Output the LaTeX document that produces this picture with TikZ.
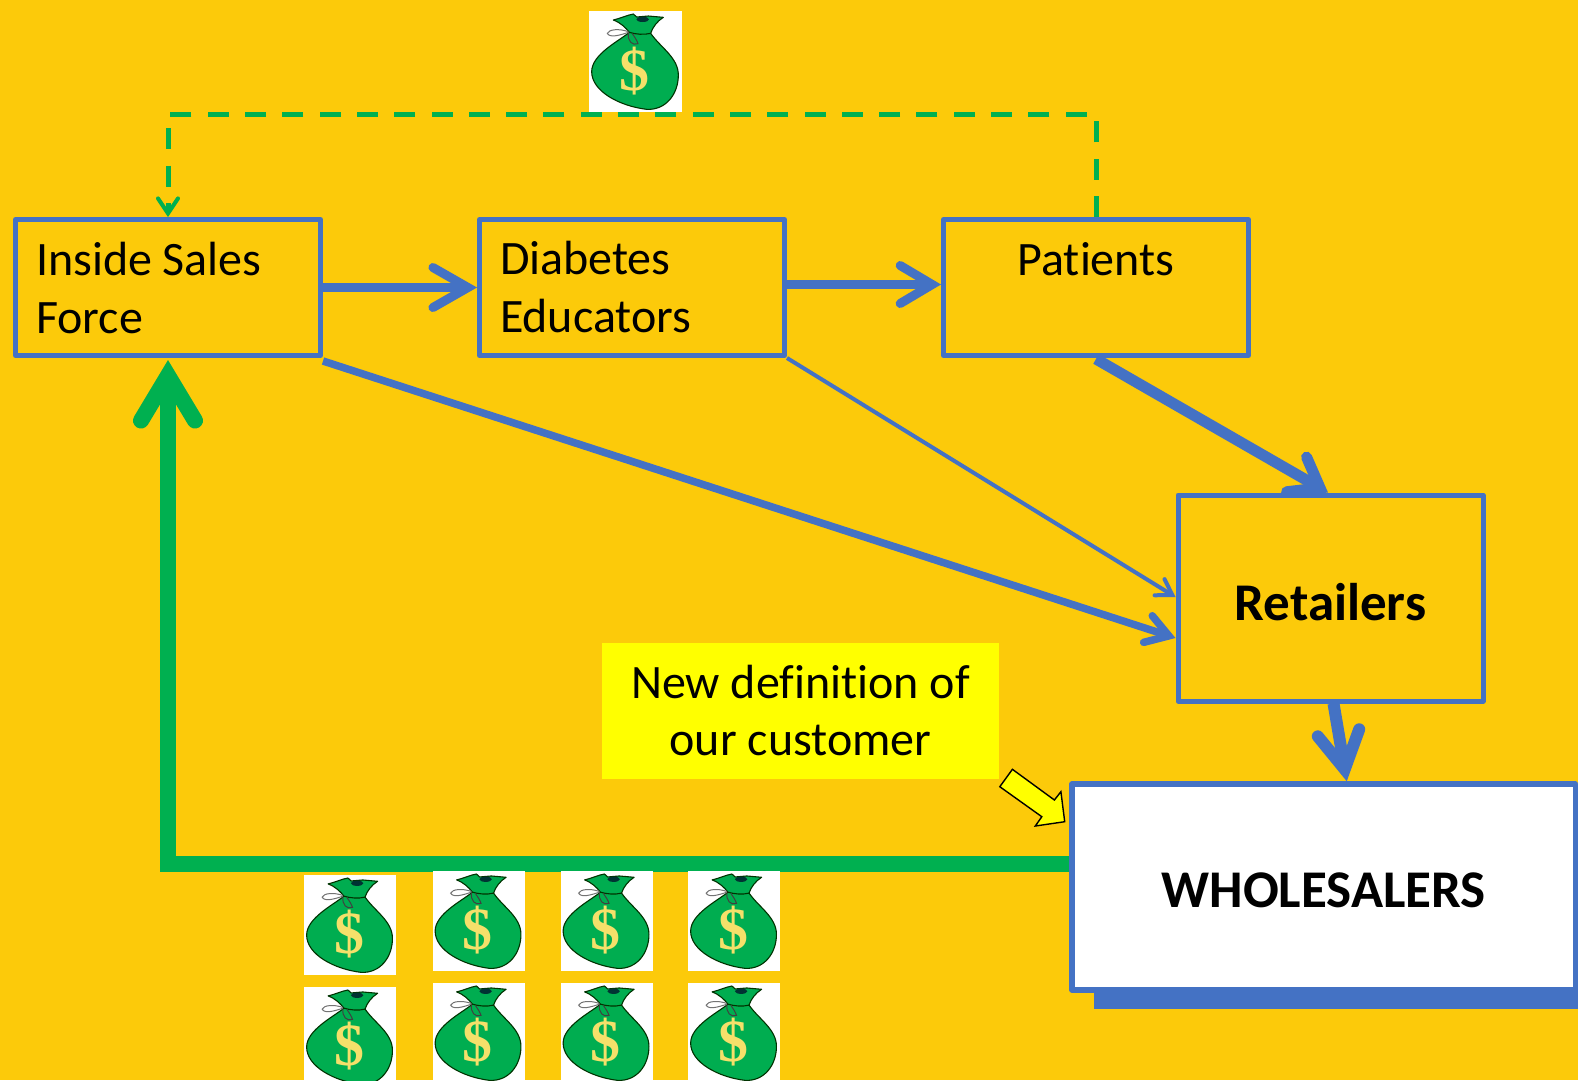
\documentclass[tikz,border=0pt]{standalone}
\usepackage{fontspec}
\setmainfont{Carlito}[Ligatures=NoCommon]
\newfontfamily\dollarfont{Liberation Serif}[Scale=1]
\usetikzlibrary{arrows.meta,calc,positioning}
\definecolor{bg}{HTML}{FCCA0A}
\definecolor{bl}{HTML}{4472C4}
\definecolor{gr}{HTML}{00B050}
\definecolor{bagg}{HTML}{00AD50}
\definecolor{dollar}{HTML}{F5E06A}
\definecolor{notey}{HTML}{FFFF00}
\tikzset{
  x=1pt,y=-1pt,
  box/.style={draw=bl,line width=5pt,line join=round,minimum width=305pt,minimum height=136pt,
    text width=264pt,inner sep=0pt,align=left,font=\fontsize{48}{58}\selectfont,text=black},
  bigbox/.style={draw=bl,line width=5pt,line join=round,inner sep=0pt,font=\fontsize{53}{60}\bfseries\selectfont,text=black,align=center},
  flow/.style={draw=bl,line join=miter},
  barb/.style n args={3}{-{Straight Barb[length=#1,width=#2,line width=#3,line cap=round,line join=miter]}},
  moneybag/.pic={
    \fill[white] (0,0) rectangle (279,303);
    \draw[line width=1.1pt,draw=black!80!green,fill=bagg,line join=round]
      (121,64) .. controls (90,90) and (8,130) .. (8,182)
      .. controls (8,240) and (90,285) .. (173,295)
      .. controls (230,298) and (268,250) .. (268,192)
      .. controls (268,140) and (215,110) .. (185,67) -- cycle;
    \draw[line width=1.1pt,draw=black!80!green,fill=bagg,line join=round]
      (121,64) .. controls (110,50) and (95,35) .. (73,27)
      .. controls (95,22) and (115,12) .. (133,9) -- (143,18)
      -- (178,15) -- (223,19) .. controls (205,30) and (190,50) .. (185,67)
      .. controls (165,72) and (140,70) .. (121,64) -- cycle;
    \fill[black!60!teal] (161,25) ellipse [x radius=19,y radius=8];
    \draw[line width=1pt,draw=black!55] (118,62) .. controls (90,52) and (60,55) .. (55,67)
      .. controls (62,82) and (95,72) .. (118,64);
    \draw[line width=1pt,draw=black!75] (118,66) .. controls (115,90) and (130,105) .. (147,98)
      .. controls (145,90) and (135,75) .. (130,68);
    \node (d) at (137,179) {\dollarfont\fontsize{60}{60}\bfseries\selectfont\textcolor{dollar}{\$}};
  }
}
\begin{document}
\begin{tikzpicture}
\useasboundingbox (0,0) rectangle (1578,1080);
\clip (0,0) rectangle (1578,1080);
\fill[bg] (0,0) rectangle (1578,1080);

% boxes
\node[box] (a) at (168,287.5) {Inside\kern-6pt\ Sales\\Force};
\node[box] (b) at (632,287.5) {Diabetes\\Educators};
\node[box] (c) at (1096,287.5) {\centering Patients\\\mbox{}};
\node[bigbox,minimum width=305pt,minimum height=206pt] (r) at (1330.5,598) {\rule{0pt}{46pt}Retailers};

% shadow and wholesalers
\node[fill=bl,inner sep=0pt,minimum width=484pt,minimum height=209pt] (ws) at (1336,904.5) {};
\node[bigbox,fill=white,minimum width=503.5pt,minimum height=206pt,line width=5.5pt] (w) at (1323.75,887) {\rule{0pt}{41pt}WHOLESALERS};

% note
\node[fill=notey,inner sep=0pt,minimum width=397pt,minimum height=136pt,align=center,
  font=\fontsize{48}{57}\selectfont] (n) at (800.5,710.5) {New definition of\\our customer};

% callout arrow
\draw[fill=notey,draw=black,line width=1.4pt,line join=miter]
  (1012.4,769.3) -- (1054.4,800) -- (1060.9,791.7) -- (1064.7,821.7) -- (1035.3,826) -- (1041.8,816.7) -- (999.8,786.7) -- cycle;

% green dashed return
\coordinate (dr) at (1096,114.5);
\coordinate (dl) at (168,114.5);
\draw[draw=gr,line width=5pt,dash pattern=on 21pt off 16.3pt,line join=miter,
  barb={15pt}{20pt}{4pt}]
  (c.north) -- (dr) -- (dl) -- (a.north);

% green thick return
\coordinate (gc) at (168,864);
\draw[draw=gr,line width=16pt,line join=miter,shorten >=2pt,
  barb={45pt}{54pt}{16pt}]
  ([yshift=23pt]w.west) -- (gc) -- (a.south);

% blue flows
\draw[flow,line width=9pt,barb={35pt}{40pt}{9pt}] (a.east) -- (b.west);
\draw[flow,line width=9pt,barb={32pt}{38pt}{9pt}] ([yshift=3pt]b.east) -- ([yshift=3pt]c.west);
\draw[flow,line width=11pt,barb={27pt}{40pt}{11pt}] ([yshift=-1pt]c.south) -- ([xshift=-2.5pt]r.north);
\draw[flow,line width=4pt,barb={15pt}{19pt}{4pt}] (b.south east) -- ([yshift=1pt]r.west);
\draw[flow,line width=7.5pt,barb={22pt}{28pt}{7.5pt}] ([yshift=-3pt]a.south east) -- ([yshift=-40pt]r.west);
\draw[flow,line width=12pt,barb={37pt}{42pt}{12pt}] ([xshift=3pt]r.south) -- ([xshift=23pt]w.north);

% money bags
\pic (bagtop) [scale=1/3] at (589,11) {moneybag};
\pic (bagA) [scale=.33] at (304,875) {moneybag};
\pic (bagB) [scale=.33] at (432.5,871) {moneybag};
\pic (bagC) [scale=.33] at (560.5,871) {moneybag};
\pic (bagD) [scale=.33] at (688,871) {moneybag};
\pic (bagE) [scale=.33] at (304,987) {moneybag};
\pic (bagF) [scale=.33] at (432.5,983) {moneybag};
\pic (bagG) [scale=.33] at (560.5,983) {moneybag};
\pic (bagH) [scale=.33] at (688,983) {moneybag};
\end{tikzpicture}
\end{document}
